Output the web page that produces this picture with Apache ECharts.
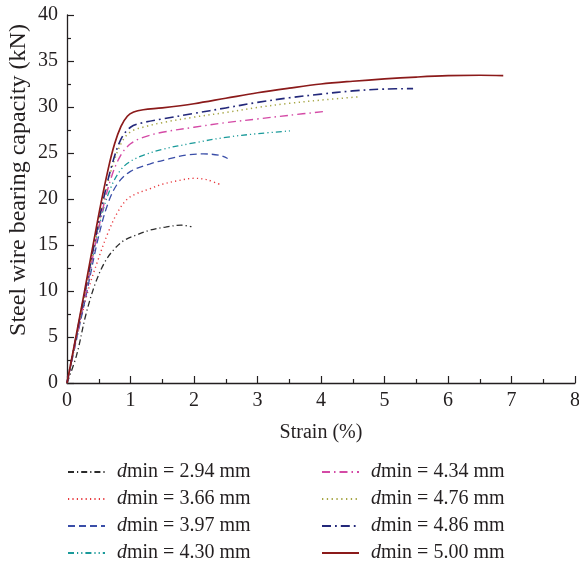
<!DOCTYPE html>
<html>
<head>
<meta charset="utf-8">
<script src="https://cdn.jsdelivr.net/npm/echarts@6/dist/echarts.min.js"></script>
<style>
html,body{margin:0;padding:0;background:#fff;}
#c{width:579px;height:567px;}
</style>
</head>
<body>
<div id="c"></div>
<script>
// Series data: [strain (%), load (kN)]
const names = ['dmin = 2.94 mm','dmin = 3.66 mm','dmin = 3.97 mm','dmin = 4.30 mm','dmin = 4.34 mm','dmin = 4.76 mm','dmin = 4.86 mm','dmin = 5.00 mm'];
const d294 = [[0,0],[0.15,3],[0.3,7.5],[0.45,10.9],[0.6,13.2],[0.75,14.6],[0.9,15.5],[1.1,16.1],[1.3,16.6],[1.55,16.95],[1.8,17.15],[1.96,17.0]];
const d366 = [[0,0],[0.15,4.8],[0.33,10],[0.5,13.6],[0.65,16.4],[0.8,18.6],[0.95,20.0],[1.1,20.6],[1.3,21.1],[1.5,21.6],[1.75,22.0],[2.0,22.25],[2.2,22.1],[2.4,21.6]];
const d397 = [[0,0],[0.3,9.5],[0.5,16],[0.65,19.6],[0.8,21.7],[1.0,23.0],[1.3,23.8],[1.6,24.35],[1.9,24.8],[2.15,24.9],[2.4,24.75],[2.53,24.4]];
const d430 = [[0,0],[0.3,10],[0.55,18.3],[0.7,21.4],[0.85,23.2],[1.0,24.1],[1.2,24.75],[1.5,25.4],[2.0,26.1],[2.5,26.7],[3.0,27.1],[3.51,27.4]];
const d434 = [[0,0],[0.3,10],[0.55,18.5],[0.7,22.4],[0.85,24.8],[1.0,26.0],[1.2,26.7],[1.5,27.25],[2.0,27.8],[2.5,28.3],[3.0,28.7],[3.5,29.1],[4.04,29.5]];
const d476 = [[0,0],[0.3,10.3],[0.55,19],[0.7,23.2],[0.85,26.0],[1.0,27.3],[1.25,27.9],[1.5,28.3],[2.0,28.9],[2.5,29.4],[3.0,29.95],[3.5,30.4],[4.0,30.75],[4.58,31.1]];
const d486 = [[0,0],[0.3,10.5],[0.55,19.2],[0.7,23.5],[0.85,26.5],[1.0,27.8],[1.2,28.3],[1.5,28.7],[2.0,29.3],[2.5,29.9],[3.0,30.5],[3.5,31.0],[4.0,31.4],[4.5,31.75],[5.0,31.95],[5.45,32.0]];
const d500 = [[0,0],[0.25,9],[0.5,18.3],[0.65,23.3],[0.75,26.0],[0.85,27.9],[0.95,29.0],[1.05,29.45],[1.2,29.7],[1.5,29.9],[2.0,30.35],[2.5,30.95],[3.0,31.55],[3.5,32.05],[4.0,32.5],[4.5,32.8],[5.0,33.05],[5.5,33.25],[6.0,33.4],[6.5,33.45],[6.87,33.4]];

const allData = [d294,d366,d397,d430,d434,d476,d486,d500];
const colors = ['#2b2b2b','#e8383d','#3a4ea8','#1a9a9a','#d44aa6','#a6a644','#23287a','#8b1a1a'];
const dashes = [[6,3,1.2,3],[1.2,3.2],[7,4],[6,3,1.2,3,1.2,3],[8,4,1.5,4],[1.3,3.5],[9,4,1.8,4],'solid'];
const widths = [1.3,1.4,1.3,1.3,1.4,1.5,1.6,1.7];

const FONT = 'Liberation Serif';
const TXT = '#231f20';

const series = allData.map((d,i)=>({
  name: names[i],
  type: 'line',
  data: d,
  showSymbol: false,
  symbol: 'none',
  smooth: 0.35,
  color: colors[i],
  lineStyle: {color: colors[i], width: widths[i], type: dashes[i]},
  z: 2 + i
}));

function legendFmt(n){ return '{i|d}{n|' + n.slice(1) + '}'; }
const legendCommon = {
  orient: 'vertical',
  top: 462,
  padding: 0,
  itemWidth: 37,
  itemHeight: 14,
  itemGap: 7,
  itemStyle: {opacity: 0, borderWidth: 0},
  formatter: legendFmt,
  textStyle: {
    color: TXT, fontFamily: FONT, fontSize: 20, lineHeight: 20, padding: [0,0,0,7],
    rich: {
      i: {fontStyle: 'italic', fontFamily: FONT, fontSize: 20, color: TXT},
      n: {fontFamily: FONT, fontSize: 20, color: TXT}
    }
  }
};

const axisCommon = {
  type: 'value',
  nameLocation: 'middle',
  nameTextStyle: {color: TXT, fontFamily: FONT, fontSize: 20},
  axisLine: {show: true, onZero: false, lineStyle: {color: '#231f20', width: 1.3}},
  axisTick: {show: true, inside: true, length: 7, lineStyle: {color: '#231f20', width: 1.2}},
  minorTick: {show: true, splitNumber: 2, length: 4, lineStyle: {color: '#231f20', width: 1.2}},
  splitLine: {show: false},
  axisLabel: {color: TXT, fontFamily: FONT, fontSize: 20}
};

const option = {
  backgroundColor: '#fff',
  animation: false,
  grid: {left: 67, right: 4, top: 15, bottom: 184, containLabel: false, outerBoundsMode: 'none'},
  xAxis: Object.assign({}, axisCommon, {
    min: 0, max: 8, interval: 1,
    name: 'Strain (%)', nameGap: 40, nameMoveOverlap: false,
    axisLabel: Object.assign({}, axisCommon.axisLabel, {margin: 8, showMaxLabel: true})
  }),
  yAxis: Object.assign({}, axisCommon, {
    min: 0, max: 40, interval: 5,
    name: 'Steel wire bearing capacity (kN)', nameGap: 36, nameMoveOverlap: false,
    nameTextStyle: {color: TXT, fontFamily: FONT, fontSize: 24, padding: [0,0,0,38]},
    axisLabel: Object.assign({}, axisCommon.axisLabel, {margin: 9})
  }),
  legend: [
    Object.assign({}, legendCommon, {left: 67, data: names.slice(0,4)}),
    Object.assign({}, legendCommon, {left: 321, data: names.slice(4,8)})
  ],
  series: series
};

const chart = echarts.init(document.getElementById('c'), null, {renderer: 'canvas'});
chart.setOption(option);
</script>
</body>
</html>
